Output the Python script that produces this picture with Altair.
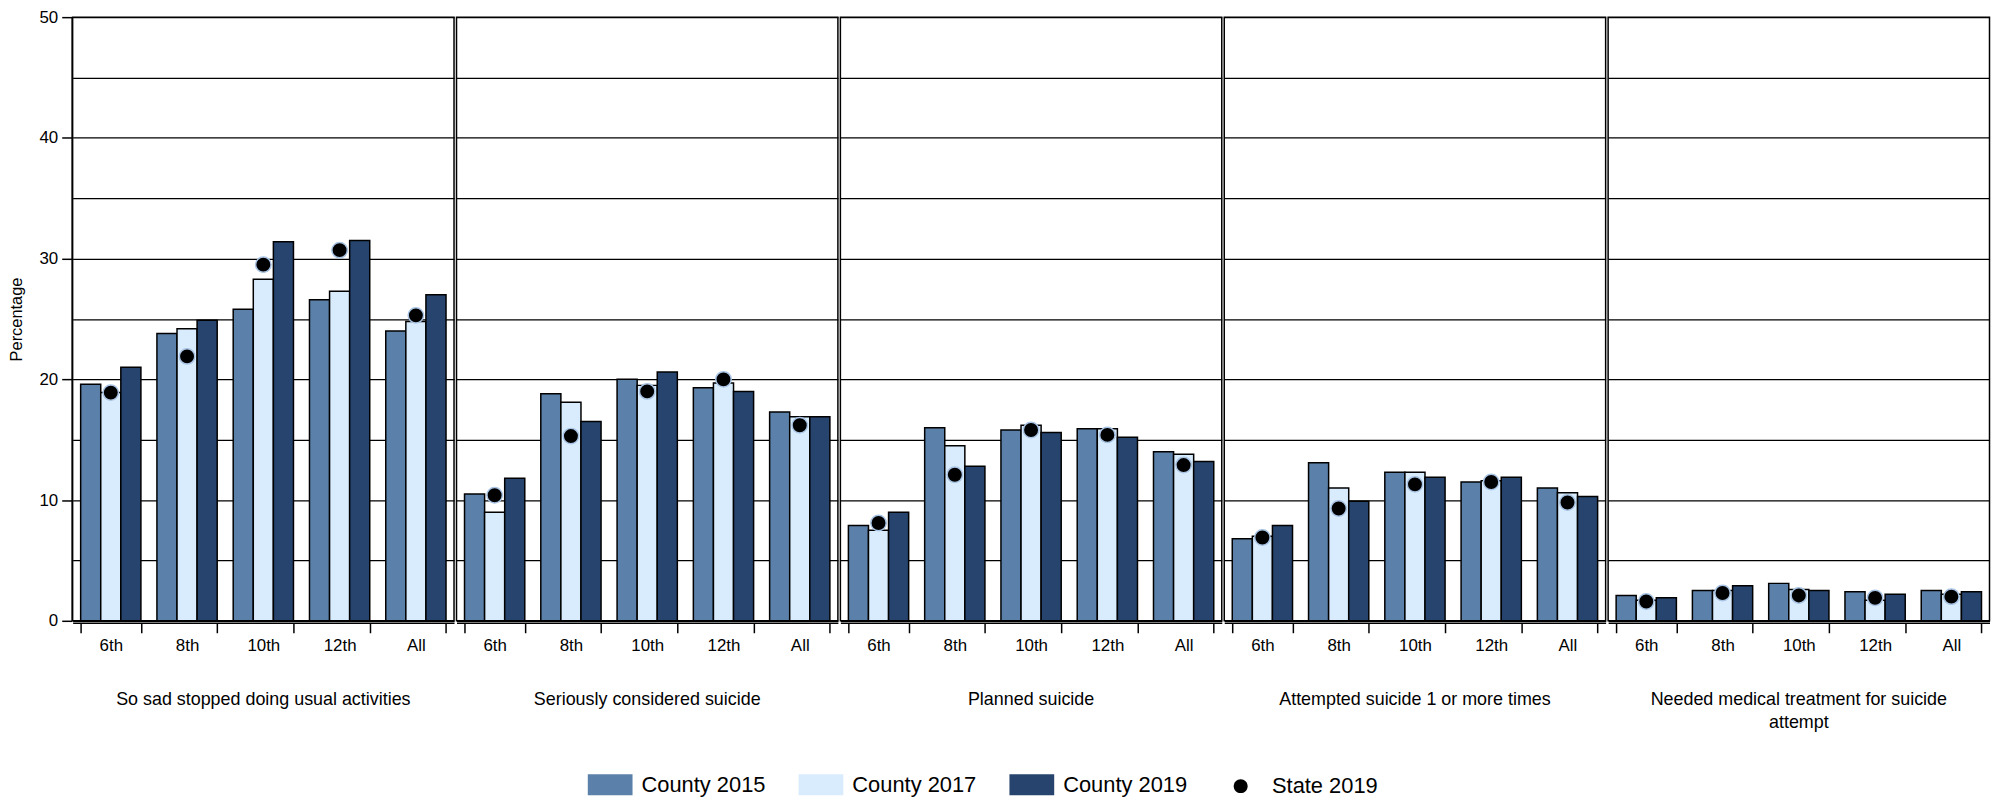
import altair as alt
import pandas as pd

groups = [
    "So sad stopped doing usual activities",
    "Seriously considered suicide",
    "Planned suicide",
    "Attempted suicide 1 or more times",
    "Needed medical treatment for suicide attempt",
]
grades = ["6th", "8th", "10th", "12th", "All"]
series = ["County 2015", "County 2017", "County 2019", "State 2019"]
colors = ["#5b80a9", "#d9ecfd", "#26446d", "#000000"]

county_2015 = [
    [19.6, 23.8, 25.8, 26.6, 24.0],
    [10.5, 18.8, 20.0, 19.3, 17.3],
    [7.9, 16.0, 15.8, 15.9, 14.0],
    [6.8, 13.1, 12.3, 11.5, 11.0],
    [2.1, 2.5, 3.1, 2.4, 2.5],
]
county_2017 = [
    [18.9, 24.2, 28.3, 27.3, 24.8],
    [9.0, 18.1, 19.5, 19.7, 16.9],
    [7.5, 14.5, 16.2, 15.9, 13.8],
    [7.0, 11.0, 12.3, 11.6, 10.6],
    [1.7, 2.5, 2.6, 1.7, 2.2],
]
county_2019 = [
    [21.0, 24.9, 31.4, 31.5, 27.0],
    [11.8, 16.5, 20.6, 19.0, 16.9],
    [9.0, 12.8, 15.6, 15.2, 13.2],
    [7.9, 9.9, 11.9, 11.9, 10.3],
    [1.9, 2.9, 2.5, 2.2, 2.4],
]
state_2019 = [
    [18.9, 21.9, 29.5, 30.7, 25.3],
    [10.4, 15.3, 19.0, 20.0, 16.2],
    [8.1, 12.1, 15.8, 15.4, 12.9],
    [6.9, 9.3, 11.3, 11.5, 9.8],
    [1.6, 2.3, 2.1, 1.9, 2.0],
]

rows = []
for gi, g in enumerate(groups):
    for ki, k in enumerate(grades):
        for s, arr in zip(series, [county_2015, county_2017, county_2019, state_2019]):
            rows.append({"group": g, "grade": k, "series": s, "value": arr[gi][ki]})
df = pd.DataFrame(rows)

FONT = "Liberation Sans, Arial, sans-serif"

RECT = "M-1,-0.47H1V0.47H-1Z"
DOT = "M0.31,0A0.31,0.31,0,1,1,-0.31,0A0.31,0.31,0,1,1,0.31,0Z"

color_scale = alt.Scale(domain=series, range=colors)
shape_scale = alt.Scale(domain=series, range=[RECT, RECT, RECT, DOT])

legend = alt.Legend(
    title=None,
    orient="none",
    direction="horizontal",
    columns=4,
    legendX=517,
    legendY=748,
    padding=0,
    labelFont=FONT,
    labelFontSize=22,
    labelColor="black",
    labelOffset=8,
    columnPadding=30,
    symbolSize=2025,
    symbolStrokeColor="black",
    symbolStrokeWidth=1.5,
    symbolOpacity=1,
)

x_enc = alt.X(
    "grade:N",
    sort=grades,
    scale=alt.Scale(paddingInner=0.21, paddingOuter=0.105),
    axis=alt.Axis(
        title=None,
        labelAngle=0,
        tickBand="extent",
        tickSize=10,
        labelPadding=5,
        labelFont=FONT,
        labelFontSize=17,
        labelColor="black",
        domainColor="black",
        domainWidth=1.5,
        tickColor="black",
        tickWidth=1.5,
    ),
)

y_enc = alt.Y(
    "value:Q",
    scale=alt.Scale(domain=[0, 50], nice=False),
    axis=alt.Axis(
        title="Percentage",
        values=list(range(0, 51, 5)),
        labelExpr="datum.value % 10 === 0 ? datum.label : ''",
        tickOpacity={"condition": {"test": "datum.value % 10 === 0", "value": 1}, "value": 0},
        tickSize=10,
        tickWidth=1.5,
        tickColor="black",
        labelPadding=4,
        labelFont=FONT,
        labelFontSize=17,
        labelColor="black",
        titleFont=FONT,
        titleFontSize=16.5,
        titleFontWeight="normal",
        titleColor="black",
        titlePadding=15,
        grid=True,
        gridColor="black",
        gridWidth=1.3,
        domainColor="black",
        domainWidth=1.5,
    ),
)

bars = (
    alt.Chart()
    .transform_filter(alt.datum.series != "State 2019")
    .mark_bar(stroke="black", strokeWidth=1.5)
    .encode(
        x=x_enc,
        xOffset=alt.XOffset("series:N", sort=series[:3], scale=alt.Scale(paddingInner=0, paddingOuter=0)),
        y=y_enc,
        color=alt.Color("series:N", scale=color_scale, legend=legend),
    )
)

dots = (
    alt.Chart()
    .transform_filter(alt.datum.series == "State 2019")
    .mark_point(filled=True, size=2500, stroke="#a9c4e4", strokeWidth=1.5, opacity=1)
    .encode(
        x=x_enc,
        y=y_enc,
        color=alt.Color("series:N", scale=color_scale, legend=legend),
        shape=alt.Shape("series:N", scale=shape_scale, legend=legend),
    )
)

layer = alt.layer(bars, dots).properties(width=383.5, height=607)

chart = (
    layer.facet(
        data=df,
        column=alt.Column(
            "group:N",
            sort=groups,
            header=alt.Header(
                title=None,
                labelOrient="bottom",
                labelFont=FONT,
                labelFontSize=18,
                labelColor="black",
                labelPadding=38,
                labelLineHeight=23,
                labelExpr="datum.value === 'Needed medical treatment for suicide attempt' ? ['Needed medical treatment for suicide', 'attempt'] : datum.label",
            ),
        ),
        spacing=0,
    )
    .properties(padding={"left": 0, "top": -2, "right": 0, "bottom": 0})
    .configure(font=FONT)
    .configure_view(stroke="black", strokeWidth=1.5)
)

chart.save("out.html", embed_options={"renderer": "svg", "actions": False})
